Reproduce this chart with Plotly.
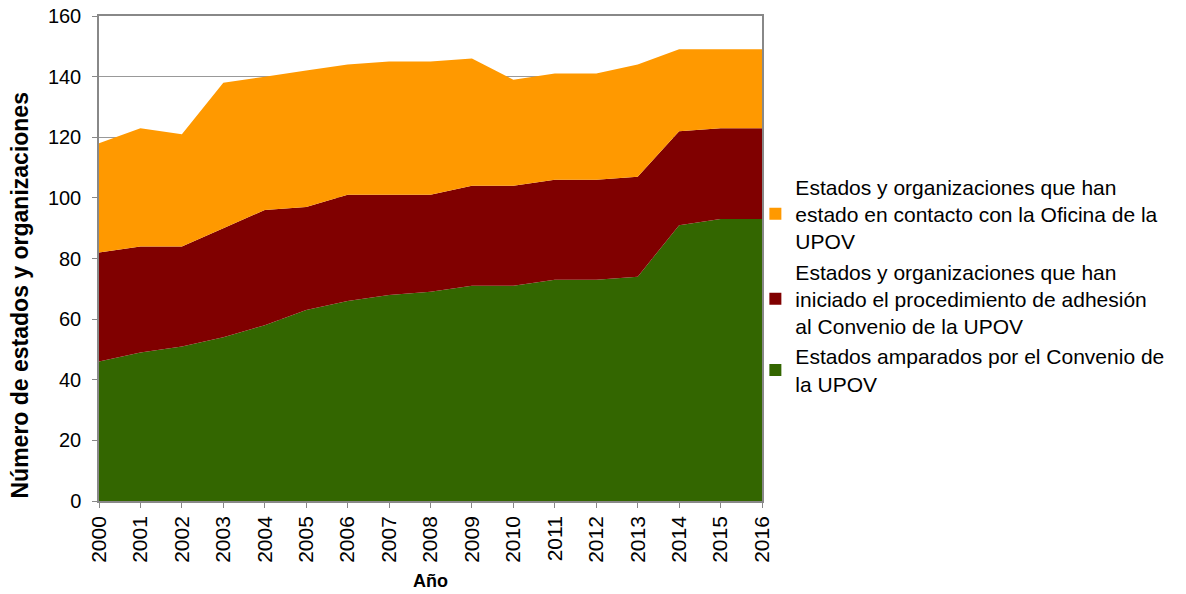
import plotly.graph_objects as go

anios = list(range(2000, 2017))

amparados = [46, 49, 51, 54, 58, 63, 66, 68, 69, 71, 71, 73, 73, 74, 91, 93, 93]
total_adhesion = [82, 84, 84, 90, 96, 97, 101, 101, 101, 104, 104, 106, 106, 107, 122, 123, 123]
total_contacto = [118, 123, 121, 138, 140, 142, 144, 145, 145, 146, 139, 141, 141, 144, 149, 149, 149]

# las series van apiladas: se guardan los incrementos
adhesion = [t - a for t, a in zip(total_adhesion, amparados)]
contacto = [t - a for t, a in zip(total_contacto, total_adhesion)]

nombres = [
    'Estados amparados por el Convenio de<br>la UPOV',
    'Estados y organizaciones que han<br>iniciado el procedimiento de adhesión<br>al Convenio de la UPOV',
    'Estados y organizaciones que han<br>estado en contacto con la Oficina de la<br>UPOV',
]
colores = ['#336600', '#800000', '#FF9900']

fig = go.Figure()
for nombre, valores, color in zip(nombres, [amparados, adhesion, contacto], colores):
    fig.add_trace(go.Scatter(
        x=anios, y=valores, name=nombre, stackgroup='uno',
        mode='none', fillcolor=color, showlegend=False,
    ))

# leyenda con cuadrados pequeños como en Excel
for nombre, color in zip(nombres, colores):
    fig.add_trace(go.Scatter(
        x=[None], y=[None], name=nombre, mode='markers',
        marker=dict(symbol='square', size=12, color=color),
    ))

eje = dict(showline=True, linecolor='#888888', linewidth=1.5, mirror=True,
           ticks='outside', tickcolor='#888888', ticklen=5, automargin=False,
           ticklabeloverflow='allow')

fig.update_xaxes(**eje, tickmode='array', tickvals=anios, tickangle=-90,
                 range=[2000, 2016], showgrid=False,
                 tickfont=dict(size=21, color='#000000'))
fig.update_yaxes(**eje, range=[0, 160], dtick=20, showgrid=True,
                 gridcolor='#999999', gridwidth=1, zeroline=False,
                 tickfont=dict(size=20, color='#000000'), ticklabelstandoff=7)

fig.add_annotation(text='<b>Número de estados y organizaciones</b>',
                   xref='paper', yref='paper', x=0, y=0.5,
                   xanchor='center', yanchor='middle',
                   xshift=-80, yshift=-37, textangle=-90, showarrow=False,
                   font=dict(size=23))
fig.add_annotation(text='<b>Año</b>', xref='paper', yref='paper',
                   x=0.5, y=0, xanchor='center', yanchor='middle',
                   yshift=-80, showarrow=False, font=dict(size=18))

fig.update_layout(
    width=1186, height=594,
    margin=dict(l=99, r=424, t=16, b=93),
    plot_bgcolor='white', paper_bgcolor='white',
    font=dict(family='Liberation Sans, Arial, sans-serif', color='#000000'),
    legend=dict(x=0.99, y=0.69, yanchor='top', traceorder='reversed',
                font=dict(size=21), itemwidth=30, bgcolor='rgba(0,0,0,0)'),
    showlegend=True,
)

# quitar el margen por defecto del body para que la figura ocupe toda la ventana
fig.write_html("out.html", config={'displayModeBar': False},
               post_script="document.body.style.margin='0';")
